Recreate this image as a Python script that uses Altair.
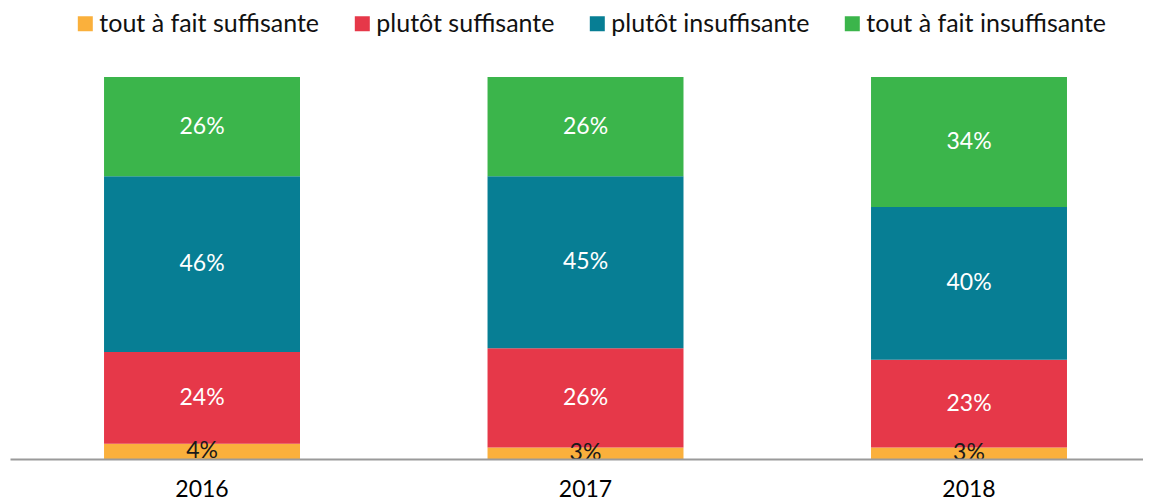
import altair as alt
import pandas as pd

years = ["2016", "2017", "2018"]
categories = ["tout à fait suffisante", "plutôt suffisante", "plutôt insuffisante", "tout à fait insuffisante"]
v_tout_suff = [4, 3, 3]
v_plutot_suff = [24, 26, 23]
v_plutot_insuff = [46, 45, 40]
v_tout_insuff = [26, 26, 34]
colors = ["#FAB03C", "#E63849", "#077E94", "#3BB54B"]

series = [v_tout_suff, v_plutot_suff, v_plutot_insuff, v_tout_insuff]
rows = []
for ci, (cat, vals) in enumerate(zip(categories, series)):
    for yr, v in zip(years, vals):
        rows.append({"year": yr, "cat": cat, "ord": ci, "value": v})
df = pd.DataFrame(rows)

FONT = "Lato"

base = alt.Chart(df).transform_stack(
    stack="value", groupby=["year"], sort=[alt.SortField("ord", order="ascending")], as_=["y0", "y1"]
).transform_calculate(mid="(datum.y0 + datum.y1) / 2", label="datum.value + '%'")

xenc = alt.X(
    "year:N",
    sort=years,
    scale=alt.Scale(paddingInner=0.489, paddingOuter=0.2217, align=0.553),
    axis=alt.Axis(title=None, labelAngle=0, ticks=False, domainColor="#9a9a9a", domainWidth=2,
                  labelFont=FONT, labelFontSize=23, labelColor="#000000", labelPadding=19, zindex=1),
)
yscale = alt.Scale(domain=[0, 100], nice=False, zero=True)

bars = base.mark_bar().encode(
    x=xenc,
    y=alt.Y("y0:Q", scale=yscale, axis=None),
    y2="y1:Q",
    color=alt.Color(
        "cat:N",
        sort=categories,
        scale=alt.Scale(domain=categories, range=colors),
        legend=alt.Legend(
            orient="none", legendX=62.8, legendY=-66, direction="horizontal", title=None,
            symbolType="square", symbolSize=225, symbolStrokeWidth=0, symbolOpacity=1,
            labelFont=FONT, labelFontSize=25, labelColor="#111111", labelOffset=1.5,
            labelLimit=0, columnPadding=30, padding=0,
        ),
    ),
)

texts = base.mark_text(font=FONT, fontSize=23, baseline="middle", align="center").encode(
    x=alt.X("year:N", sort=years),
    y=alt.Y("mid:Q", scale=yscale),
    text="label:N",
    color=alt.when(alt.datum.ord == 0).then(alt.value("#1a1a1a")).otherwise(alt.value("#ffffff")),
)

chart = alt.layer(bars, texts).properties(
    width=1133,
    height=382,
    autosize=alt.AutoSizeParams(type="none"),
    padding={"left": 2, "top": 69, "right": 0, "bottom": 43},
).configure_view(stroke=None)

chart.save("out.html", embed_options={"renderer": "svg", "actions": False})
